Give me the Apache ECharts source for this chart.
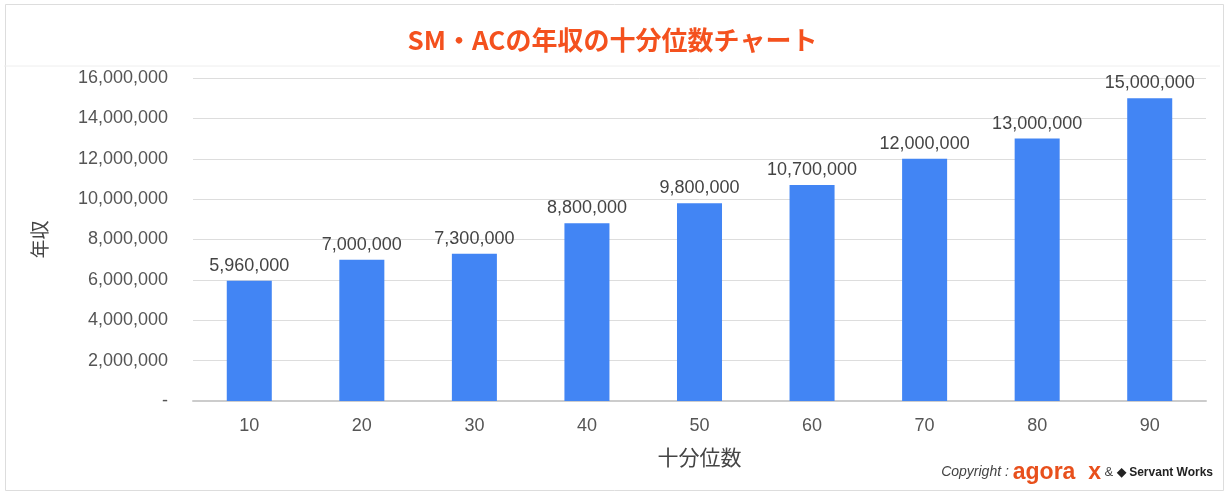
<!DOCTYPE html>
<html><head><meta charset="utf-8">
<script src="https://cdn.jsdelivr.net/npm/echarts@6/dist/echarts.min.js"></script>
<style>html,body{margin:0;padding:0;background:#fff}#c{width:1225px;height:491px}</style>
</head><body><div id="c"></div>
<script>
const categories = ['10','20','30','40','50','60','70','80','90'];
const incomes = [5960000,7000000,7300000,8800000,9800000,10700000,12000000,13000000,15000000];
const titleText = 'SM・ACの年収の十分位数チャート';
const yName = '年収';
const xName = '十分位数';

const fmt = v => v === 0 ? '-' : v.toLocaleString('en-US');
const chart = echarts.init(document.getElementById('c'));
chart.setOption({
  backgroundColor: '#fff',
  animation: false,
  title: {
    text: titleText, left: 'center', top: 22,
    textStyle: {color: '#f4511e', fontSize: 26, fontWeight: 'bold', fontFamily: 'Noto Sans CJK JP'}
  },
  grid: {left: 193, right: 19, top: 78, bottom: 90},
  xAxis: {
    type: 'category', data: categories,
    name: xName, nameLocation: 'middle', nameGap: 46,
    nameTextStyle: {color: '#444', fontSize: 21, fontFamily: 'Noto Sans CJK JP'},
    axisLine: {lineStyle: {color: '#ccc', width: 2}},
    axisTick: {show: false},
    axisLabel: {color: '#555', fontSize: 18, margin: 16, fontFamily: 'Arial, Liberation Sans'}
  },
  yAxis: {
    type: 'value', min: 0, max: 16000000, interval: 2000000,
    name: yName, nameLocation: 'middle', nameGap: 144, nameRotate: 90,
    nameTextStyle: {color: '#444', fontSize: 19, fontFamily: 'Noto Sans CJK JP'},
    axisLine: {show: false}, axisTick: {show: false},
    splitLine: {lineStyle: {color: '#ddd', width: 1}},
    axisLabel: {color: '#555', fontSize: 18, margin: 25, formatter: fmt, fontFamily: 'Arial, Liberation Sans'}
  },
  series: [{
    type: 'bar', data: incomes, barWidth: '40%',
    itemStyle: {color: '#4285f4'},
    label: {show: true, position: 'top', distance: 6, color: '#444', fontSize: 18,
      fontFamily: 'Arial, Liberation Sans', formatter: p => fmt(p.value)}
  }],
  graphic: [
    {type: 'rect', left: 3, top: 2, shape: {width: 1218, height: 486}, style: {fill: 'none', stroke: '#ddd', lineWidth: 1}, silent: true},
    {type: 'line', shape: {x1: 4, y1: 66, x2: 1220, y2: 66}, style: {stroke: '#eee', lineWidth: 1}},
    {type: 'text', right: 12, bottom: 7, style: {
      rich: {
        a: {fontStyle: 'italic', fill: '#444', fontSize: 14, fontFamily: 'Arial, Liberation Sans'},
        b: {fill: '#e8501c', fontSize: 23, fontWeight: 'bold', fontFamily: 'Arial, Liberation Sans'},
        c: {fill: '#444', fontSize: 13, fontFamily: 'Arial, Liberation Sans'},
        d: {fill: '#222', fontSize: 12, fontWeight: 'bold', fontFamily: 'Arial, Liberation Sans'}
      },
      text: '{a|Copyright : }{b|agora  x}{c| & }{d|◆ Servant Works}'
    }}
  ]
});
</script></body></html>
